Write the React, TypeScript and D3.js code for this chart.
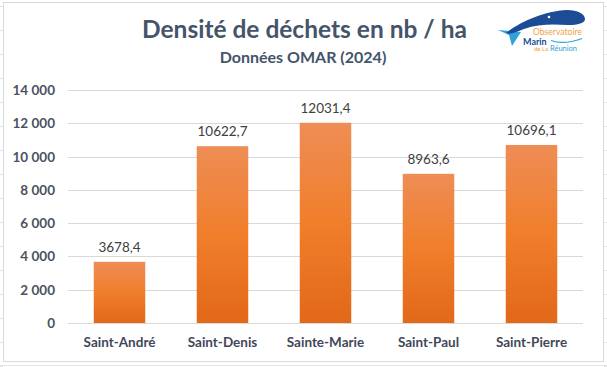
import * as d3 from "d3";

const communes = ["Saint-André", "Saint-Denis", "Sainte-Marie", "Saint-Paul", "Saint-Pierre"];
const densites = [3678.4, 10622.7, 12031.4, 8963.6, 10696.1];
const yTicks = [0, 2000, 4000, 6000, 8000, 10000, 12000, 14000];

const W = 607, H = 367;
const M = { top: 90, right: 24, bottom: 44, left: 68 };
const FONT = "Lato, 'Open Sans', sans-serif";

const fr = d3.formatLocale({ decimal: ",", thousands: "\u202f", grouping: [3], currency: ["", " €"] });
const fmtTick = fr.format(",");
const fmtVal = fr.format(".1f");

function Logo() {
  return (
    <g>
      {/* tail fin */}
      <path d="M498,30 L521,32 L512,46 L509,35 Z" fill="#2FA3DA" />
      {/* whale body */}
      <path
        d="M506,33 C520,22 544,11 567,10 C578,10 585,14 585,19 C585,23 578,25 568,25 C552,24 538,24 524,29 C516,32 510,35 506,33 Z"
        fill="#1D4C97"
      />
      <circle cx={549} cy={17} r={1.3} fill="#ffffff" />
      <text x={533} y={34.5} fontFamily={FONT} fontSize={8.6} fill="#F0A040">Observatoire</text>
      <text x={523} y={44.5} fontFamily={FONT} fontSize={9} fontWeight={700} fill="#1D4C97">Marin</text>
      <path d="M551,40.5 C559,43.5 571,42.5 582,38.5" fill="none" stroke="#2FA3DA" strokeWidth={1.2} />
      <text x={534} y={51} fontFamily={FONT} fontSize={6} fill="#F0A040">de La</text>
      <text x={550} y={51} fontFamily={FONT} fontSize={7.5} fill="#2FA3DA">Réunion</text>
    </g>
  );
}

export default function App() {
  const x = d3.scaleBand<string>().domain(communes).range([M.left, W - M.right]).paddingInner(0.5).paddingOuter(0.25);
  const y = d3.scaleLinear().domain([0, 14000]).range([H - M.bottom, M.top]);
  const rows = d3.range(6, H, 24);

  return (
    <svg width={W} height={H} style={{ position: "absolute", left: 0, top: 0, background: "#fff" }}>
      <defs>
        <linearGradient id="barGrad" x1="0" y1="0" x2="0" y2="1">
          <stop offset="0" stopColor="#EE8D55" />
          <stop offset="0.5" stopColor="#F07E2B" />
          <stop offset="1" stopColor="#E2681A" />
        </linearGradient>
      </defs>

      {/* spreadsheet cells behind the chart */}
      {rows.map((r) => (
        <g key={r} stroke="#E4E4E4" strokeWidth={1}>
          <line x1={0} x2={3} y1={r + 0.5} y2={r + 0.5} />
          <line x1={604} x2={W} y1={r + 0.5} y2={r + 0.5} />
        </g>
      ))}
      <line x1={0} x2={W} y1={365.5} y2={365.5} stroke="#E4E4E4" />
      <rect x={3.5} y={2.5} width={600} height={359} fill="#fff" stroke="#D9D9D9" />

      <text x={304.5} y={38} textAnchor="middle" fontFamily={FONT} fontWeight={700} fontSize={24.5} fill="#44546A">
        Densité de déchets en nb / ha
      </text>
      <text x={303} y={63} textAnchor="middle" fontFamily={FONT} fontWeight={700} fontSize={16} fill="#44546A">
        Données OMAR (2024)
      </text>
      <Logo />

      {yTicks.map((t) => (
        <g key={t}>
          {t > 0 && <line x1={M.left} x2={W - M.right} y1={Math.round(y(t)) + 0.5} y2={Math.round(y(t)) + 0.5} stroke="#D9D9D9" />}
          <text x={55} y={y(t) + 5} textAnchor="end" fontFamily={FONT} fontWeight={700} fontSize={13.5} fill="#4A5262">
            {fmtTick(t)}
          </text>
        </g>
      ))}

      {communes.map((c, i) => (
        <g key={c}>
          <rect x={x(c)} y={y(densites[i])} width={x.bandwidth()} height={y(0) - y(densites[i])} fill="url(#barGrad)" />
          <text x={(x(c) ?? 0) + x.bandwidth() / 2} y={y(densites[i]) - 10} textAnchor="middle" fontFamily={FONT} fontSize={13.5} fill="#404040">
            {fmtVal(densites[i])}
          </text>
          <text x={(x(c) ?? 0) + x.bandwidth() / 2} y={347} textAnchor="middle" fontFamily={FONT} fontWeight={700} fontSize={13.5} fill="#3F4859">
            {c}
          </text>
        </g>
      ))}
      <line x1={M.left} x2={W - M.right} y1={Math.round(y(0)) + 0.5} y2={Math.round(y(0)) + 0.5} stroke="#D9D9D9" />
    </svg>
  );
}
